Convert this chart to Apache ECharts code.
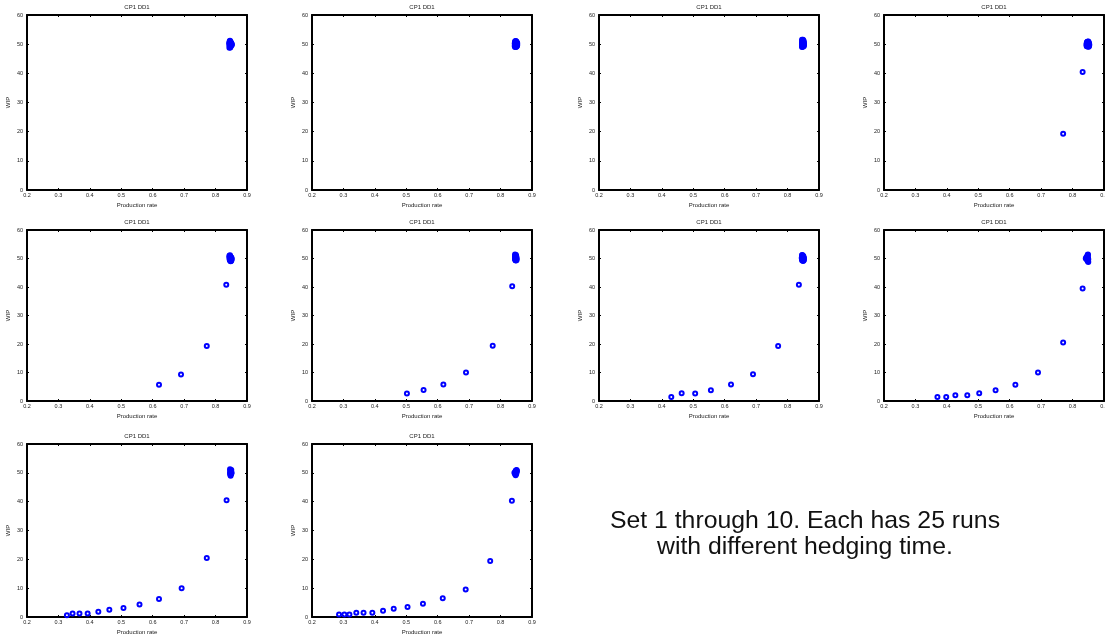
<!DOCTYPE html>
<html>
<head>
<meta charset="utf-8">
<script src="https://cdn.jsdelivr.net/npm/echarts@6/dist/echarts.min.js"></script>
<style>html,body{margin:0;padding:0;background:#fff}#c{width:1105px;height:637px}</style>
</head>
<body>
<div id="c"></div>
<script>
// ---- data ----
var panelTitle = 'CP1 DD1';
var xName = 'Production rate';
var yName = 'WIP';
var xTicks = [0.2, 0.3, 0.4, 0.5, 0.6, 0.7, 0.8, 0.9];
var yTicks = [0, 10, 20, 30, 40, 50, 60];
var note = 'Set 1 through 10. Each has 25 runs\nwith different hedging time.';

var set1 = [[0.845,51.0],[0.846,50.6],[0.844,50.2],[0.847,49.8],[0.845,49.5],[0.846,49.1],[0.844,48.8],[0.848,50.3],[0.849,49.9],[0.851,49.6],[0.852,50.0],[0.850,50.2],[0.846,50.0],[0.845,49.3],[0.847,50.8],[0.848,49.4],[0.844,49.9],[0.846,51.2],[0.847,48.9],[0.849,50.5],[0.845,50.4],[0.850,49.7],[0.846,49.6],[0.848,50.7],[0.844,50.6]];
var set2 = [[0.846,50.9],[0.848,50.6],[0.845,50.2],[0.849,49.8],[0.847,49.5],[0.850,49.2],[0.846,49.0],[0.851,50.4],[0.852,50.0],[0.853,49.7],[0.852,50.6],[0.850,50.8],[0.847,50.0],[0.845,49.4],[0.849,51.0],[0.851,49.3],[0.846,49.7],[0.848,51.1],[0.849,49.0],[0.853,50.3],[0.846,50.5],[0.851,49.9],[0.848,49.6],[0.850,50.1],[0.852,49.4]];
var set3 = [[0.846,51.5],[0.847,51.0],[0.846,50.5],[0.848,50.0],[0.847,49.6],[0.849,49.2],[0.846,49.0],[0.850,50.3],[0.851,49.8],[0.852,50.6],[0.851,51.2],[0.849,50.9],[0.847,50.2],[0.846,49.4],[0.848,51.3],[0.850,49.5],[0.846,49.9],[0.849,51.5],[0.848,49.1],[0.852,50.1],[0.847,50.7],[0.851,49.7],[0.848,49.8],[0.850,50.8],[0.852,49.4]];
var set4 = [[0.770,19.3],[0.832,40.5],[0.845,50.4],[0.847,50.8],[0.849,50.1],[0.851,49.7],[0.846,49.4],[0.848,49.2],[0.852,50.5],[0.853,50.0],[0.850,50.9],[0.846,50.0],[0.844,49.8],[0.849,49.4],[0.851,50.3],[0.847,50.2],[0.853,49.6],[0.845,49.3],[0.848,50.6],[0.850,49.9],[0.852,49.3],[0.846,50.7],[0.849,50.8],[0.851,49.1],[0.847,49.6]];
var set5 = [[0.620,5.7],[0.690,9.3],[0.772,19.3],[0.834,40.8],[0.844,51.0],[0.845,50.5],[0.846,50.0],[0.845,49.6],[0.847,49.2],[0.848,50.3],[0.849,49.8],[0.850,49.4],[0.851,50.1],[0.846,51.1],[0.847,50.7],[0.849,50.4],[0.850,49.9],[0.848,49.0],[0.846,49.4],[0.851,49.6],[0.844,50.2],[0.847,49.9],[0.849,49.1],[0.845,50.8],[0.850,50.3]];
var set6 = [[0.502,2.6],[0.555,3.9],[0.618,5.8],[0.690,10.0],[0.775,19.4],[0.837,40.3],[0.846,51.4],[0.847,51.0],[0.846,50.5],[0.848,50.1],[0.847,49.7],[0.849,49.3],[0.848,50.8],[0.850,50.4],[0.849,49.9],[0.851,49.5],[0.850,50.0],[0.847,50.3],[0.846,49.8],[0.849,51.2],[0.851,49.9],[0.848,49.4],[0.850,50.7],[0.847,49.5],[0.849,50.6]];
var set7 = [[0.430,1.4],[0.463,2.7],[0.506,2.6],[0.556,3.8],[0.620,5.8],[0.690,9.4],[0.770,19.3],[0.836,40.8],[0.846,51.1],[0.847,50.6],[0.845,50.2],[0.848,49.8],[0.846,49.4],[0.849,49.1],[0.847,49.9],[0.850,50.4],[0.851,50.0],[0.852,49.6],[0.850,50.9],[0.848,50.3],[0.846,49.7],[0.849,50.7],[0.851,49.3],[0.847,51.2],[0.852,50.3]];
var set8 = [[0.370,1.4],[0.398,1.4],[0.427,2.0],[0.465,2.0],[0.503,2.7],[0.555,3.8],[0.618,5.7],[0.690,10.0],[0.770,20.5],[0.832,39.5],[0.842,50.0],[0.844,50.4],[0.846,49.6],[0.848,51.2],[0.848,50.6],[0.849,50.1],[0.849,49.4],[0.850,48.8],[0.847,49.9],[0.846,50.3],[0.848,49.1],[0.850,49.7],[0.845,50.0],[0.849,51.4],[0.847,50.8]];
var set9 = [[0.327,0.6],[0.345,1.2],[0.367,1.2],[0.393,1.2],[0.427,1.8],[0.462,2.5],[0.507,3.1],[0.558,4.3],[0.620,6.2],[0.692,10.0],[0.772,20.5],[0.835,40.5],[0.846,51.2],[0.847,50.8],[0.848,50.4],[0.846,50.0],[0.849,49.6],[0.847,49.3],[0.850,49.8],[0.849,50.5],[0.851,50.0],[0.848,49.0],[0.850,51.0],[0.847,49.7],[0.849,50.2]];
var set10 = [[0.286,0.9],[0.303,0.9],[0.319,0.9],[0.341,1.5],[0.364,1.5],[0.392,1.5],[0.426,2.2],[0.460,2.9],[0.504,3.5],[0.553,4.6],[0.616,6.5],[0.689,9.5],[0.767,19.4],[0.836,40.3],[0.844,50.0],[0.846,49.6],[0.848,49.2],[0.849,50.4],[0.850,50.8],[0.851,51.0],[0.852,50.6],[0.847,50.2],[0.850,49.7],[0.848,50.7],[0.851,50.3]];
var sets = [set1, set2, set3, set4, set5, set6, set7, set8, set9, set10];

// ---- layout ----
var colLeft = [27, 312, 599, 884];
var rowTop = [15, 230, 444];
var rowH = [175, 171, 173];
var gw = 220;
var FONT = 'Liberation Sans, Arial, sans-serif';

var grids = [], xAxes = [], yAxes = [], series = [];
var labelFont = {fontSize: 5.5, color: '#222', fontFamily: FONT};
sets.forEach(function (d, i) {
  var c = i % 4, r = Math.floor(i / 4);
  grids.push({left: colLeft[c], top: rowTop[r], width: gw, height: rowH[r], containLabel: false, outerBoundsMode: 'none'});
  var lineStyle = {color: '#000', width: 2};
  var tick = {show: true, inside: true, length: 2, lineStyle: {color: '#000', width: 1}};
  var xBase = {type: 'value', gridIndex: i, min: xTicks[0], max: xTicks[xTicks.length - 1], interval: 0.1,
    splitLine: {show: false}, axisLine: {show: true, onZero: false, lineStyle: lineStyle}, axisTick: tick};
  var yBase = {type: 'value', gridIndex: i, min: yTicks[0], max: yTicks[yTicks.length - 1], interval: 10,
    splitLine: {show: false}, axisLine: {show: true, onZero: false, lineStyle: lineStyle}, axisTick: tick};
  xAxes.push(Object.assign({}, xBase, {position: 'bottom', name: xName, nameLocation: 'middle', nameGap: 12,
    nameTextStyle: {fontSize: 6, color: '#222', fontFamily: FONT},
    axisLabel: Object.assign({margin: 2, formatter: function (v) { return v.toFixed(1); }}, labelFont)}));
  xAxes.push(Object.assign({}, xBase, {position: 'top', name: panelTitle, nameLocation: 'middle', nameGap: 5,
    nameTextStyle: {fontSize: 6, color: '#222', fontFamily: FONT},
    axisLabel: {show: false}}));
  yAxes.push(Object.assign({}, yBase, {position: 'left', name: yName, nameLocation: 'middle', nameGap: 16,
    nameTextStyle: {fontSize: 6, color: '#222', fontFamily: FONT},
    axisLabel: Object.assign({margin: 4}, labelFont)}));
  yAxes.push(Object.assign({}, yBase, {position: 'right', axisLabel: {show: false}}));
  series.push({type: 'scatter', xAxisIndex: 2 * i, yAxisIndex: 2 * i, data: d, symbol: 'circle', symbolSize: 4,
    itemStyle: {color: 'rgba(0,0,0,0)', borderColor: '#0000ff', borderWidth: 2, opacity: 1}, silent: true});
});

var chart = echarts.init(document.getElementById('c'), null, {renderer: 'canvas'});
chart.setOption({
  animation: false,
  backgroundColor: '#fff',
  grid: grids,
  xAxis: xAxes,
  yAxis: yAxes,
  series: series,
  graphic: [{type: 'text', x: 805, y: 508,
    style: {text: note, fontSize: 24.8, lineHeight: 26, align: 'center', verticalAlign: 'top', fill: '#111',
      fontFamily: FONT}}]
});
</script>
</body>
</html>
